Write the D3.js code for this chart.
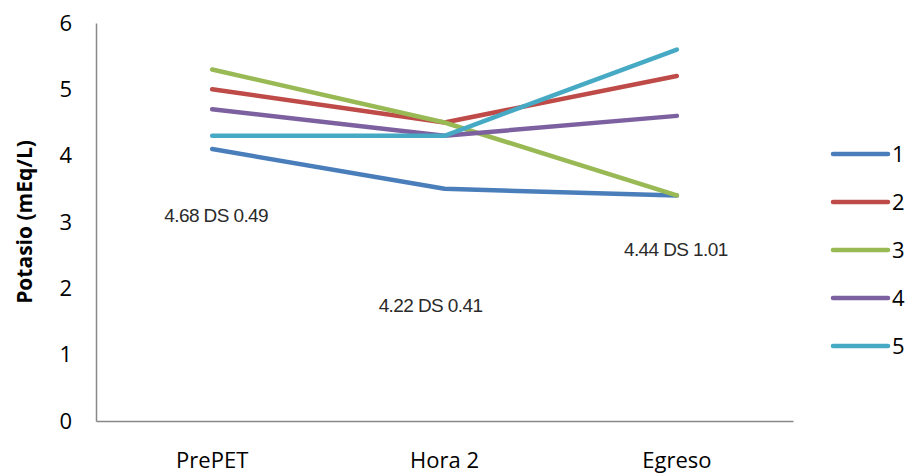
<!DOCTYPE html>
<html>
<head>
<meta charset="utf-8">
<script src="https://cdn.jsdelivr.net/npm/d3@7/dist/d3.min.js"></script>
<style>
  html, body { margin: 0; padding: 0; background: #fff; }
  svg { display: block; }
</style>
</head>
<body>
<svg id="chart" width="908" height="474"></svg>
<script>
// Time points on the x axis
const categories = ["PrePET", "Hora 2", "Egreso"];

// Potassium (mEq/L) for each patient
const seriesNames = ["1", "2", "3", "4", "5"];
const series1 = [4.1, 3.5, 3.4];
const series2 = [5.0, 4.5, 5.2];
const series3 = [5.3, 4.5, 3.4];
const series4 = [4.7, 4.3, 4.6];
const series5 = [4.3, 4.3, 5.6];

// Y axis ticks
const yTicks = [0, 1, 2, 3, 4, 5, 6];

// Mean and SD note for each time point
const noteTexts = ["4.68 DS 0.49", "4.22 DS 0.41", "4.44 DS 1.01"];

const colors = ["#4a7ebb", "#be4b48", "#98b954", "#7d60a0", "#46aac5"];

const svg = d3.select("#chart");
const plot = { left: 96, right: 793, top: 23, bottom: 421 };

const x = d3.scaleBand().domain(categories).range([plot.left, plot.right]);
const y = d3.scaleLinear().domain([0, 6]).range([plot.bottom, plot.top]);
const xc = c => x(c) + x.bandwidth() / 2;

const tickFont = "'Open Sans', sans-serif";
const tickSize = 22;

// Y axis
const yAxis = svg.append("g")
  .attr("transform", `translate(${plot.left},0)`)
  .call(d3.axisLeft(y).tickValues(yTicks).tickSize(0).tickPadding(24).tickFormat(d3.format("d")));
yAxis.select(".domain").attr("stroke", "#888").attr("stroke-width", 1.5);
yAxis.selectAll("text")
  .attr("font-family", tickFont).attr("font-size", tickSize).attr("fill", "#000");

// X axis
const xAxis = svg.append("g")
  .attr("transform", `translate(0,${plot.bottom})`)
  .call(d3.axisBottom(x).tickSize(0).tickPadding(31));
xAxis.select(".domain").attr("stroke", "#888").attr("stroke-width", 1.5);
xAxis.selectAll("text")
  .attr("font-family", tickFont).attr("font-size", tickSize).attr("fill", "#000");

// Y axis title
svg.append("text")
  .attr("transform", `translate(32,${(plot.top + plot.bottom) / 2}) rotate(-90)`)
  .attr("text-anchor", "middle")
  .attr("font-family", tickFont)
  .attr("font-weight", "bold")
  .attr("font-size", 21)
  .text("Potasio (mEq/L)");

// Series lines
const allSeries = [series1, series2, series3, series4, series5];
const line = d3.line().x((d, i) => xc(categories[i])).y(d => y(d));
svg.append("g").selectAll("path")
  .data(allSeries)
  .join("path")
  .attr("d", line)
  .attr("fill", "none")
  .attr("stroke", (d, i) => colors[i])
  .attr("stroke-width", 4.5)
  .attr("stroke-linecap", "round")
  .attr("stroke-linejoin", "round");

// Mean / SD notes (placement per time point)
const noteLayout = [
  { dx: 4, yv: 3.0 },
  { dx: -14, yv: 1.64 },
  { dx: -1, yv: 2.49 }
];
svg.append("g").selectAll("text")
  .data(noteTexts)
  .join("text")
  .attr("x", (d, i) => xc(categories[i]) + noteLayout[i].dx)
  .attr("y", (d, i) => y(noteLayout[i].yv))
  .attr("text-anchor", "middle")
  .attr("font-family", "'Liberation Sans', Arial, sans-serif")
  .attr("font-size", 19)
  .attr("letter-spacing", -0.6)
  .attr("fill", "#2a2a2a")
  .text(d => d);

// Legend
const legend = svg.append("g").attr("transform", "translate(833,154)");
const items = legend.selectAll("g")
  .data(seriesNames)
  .join("g")
  .attr("transform", (d, i) => `translate(0,${i * 48})`);
items.append("line")
  .attr("x1", 0).attr("x2", 55).attr("y1", 0).attr("y2", 0)
  .attr("stroke", (d, i) => colors[i])
  .attr("stroke-width", 4.5)
  .attr("stroke-linecap", "round");
items.append("text")
  .attr("x", 59).attr("y", 0).attr("dy", "0.35em")
  .attr("font-family", tickFont).attr("font-size", tickSize)
  .text(d => d);
</script>
</body>
</html>
